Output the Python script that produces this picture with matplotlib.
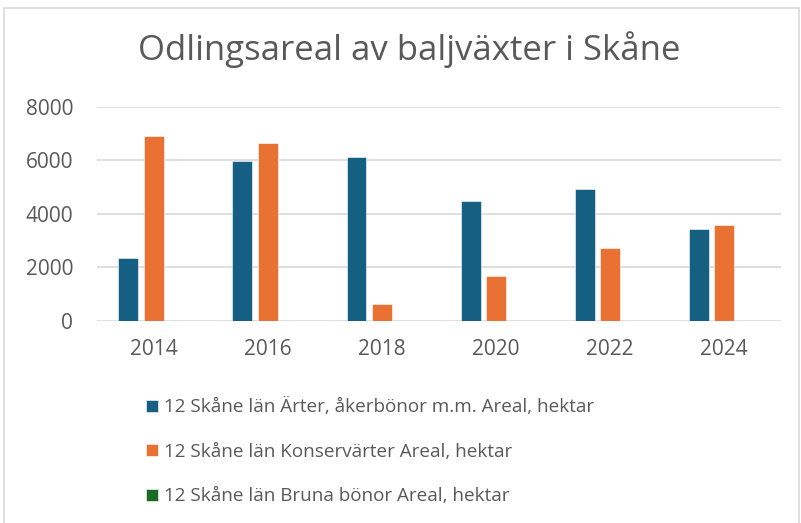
import numpy as np
import matplotlib.pyplot as plt
from matplotlib.patches import Rectangle

# Data (hectares)
years = ["2014", "2016", "2018", "2020", "2022", "2024"]
arter = [2335, 5955, 6130, 4465, 4935, 3415]
konservarter = [6915, 6655, 615, 1660, 2730, 3590]
bruna_bonor = [0, 0, 0, 0, 0, 0]

labels = [
    "12 Skåne län Ärter, åkerbönor m.m. Areal, hektar",
    "12 Skåne län Konservärter Areal, hektar",
    "12 Skåne län Bruna bönor Areal, hektar",
]
colors = ["#156082", "#E97132", "#196B24"]

plt.rcParams["font.family"] = ["Open Sans", "DejaVu Sans"]
text_col = "#595959"

fig = plt.figure(figsize=(8.01, 5.23), dpi=100)
W, H = 801, 523

# light chart border like in Excel (bottom is cut off in the reference)
fig.patches.append(Rectangle((4 / W, -0.05), 795 / W, 1.05 - 8 / H, transform=fig.transFigure,
                             fill=False, edgecolor="#d9d9d9", linewidth=1.2))

ax = fig.add_axes([96.7 / W, 1 - 320.7 / H, (781 - 96.7) / W, 214 / H])

x = np.arange(len(years))
bw = 0.175
step = 0.222
series = [arter, konservarter, bruna_bonor]
handles = []
for i, (vals, c, lab) in enumerate(zip(series, colors, labels)):
    b = ax.bar(x + (i - 1) * step, vals, width=bw, color=c, label=lab,
               edgecolor="white", linewidth=0.4, zorder=3)
    handles.append(b)

ax.set_xlim(-0.5, len(years) - 0.5)
ax.set_ylim(0, 8000)
ax.set_yticks(np.arange(0, 8001, 2000))
ax.set_xticks(x)
ax.set_xticklabels(years)
ax.yaxis.grid(True, color="#d9d9d9", linewidth=1.2, zorder=0)
ax.set_axisbelow(True)
for s in ax.spines.values():
    s.set_visible(False)
ax.tick_params(axis="both", length=0, labelsize=15, labelcolor=text_col)
ax.tick_params(axis="y", pad=17)
ax.tick_params(axis="x", pad=13)

fig.text(409 / W, 1 - 50 / H, "Odlingsareal av baljväxter i Skåne", ha="center",
         va="center", fontsize=25, color=text_col)

fig.legend(handles=handles, labels=labels, loc="upper left",
           bbox_to_anchor=(137 / W, 1 - 389 / H), frameon=False, fontsize=13.6,
           labelcolor=text_col, handlelength=0.62, handleheight=0.62,
           handletextpad=0.3, labelspacing=1.4, borderpad=0)

fig.savefig("out.png", dpi=100)
